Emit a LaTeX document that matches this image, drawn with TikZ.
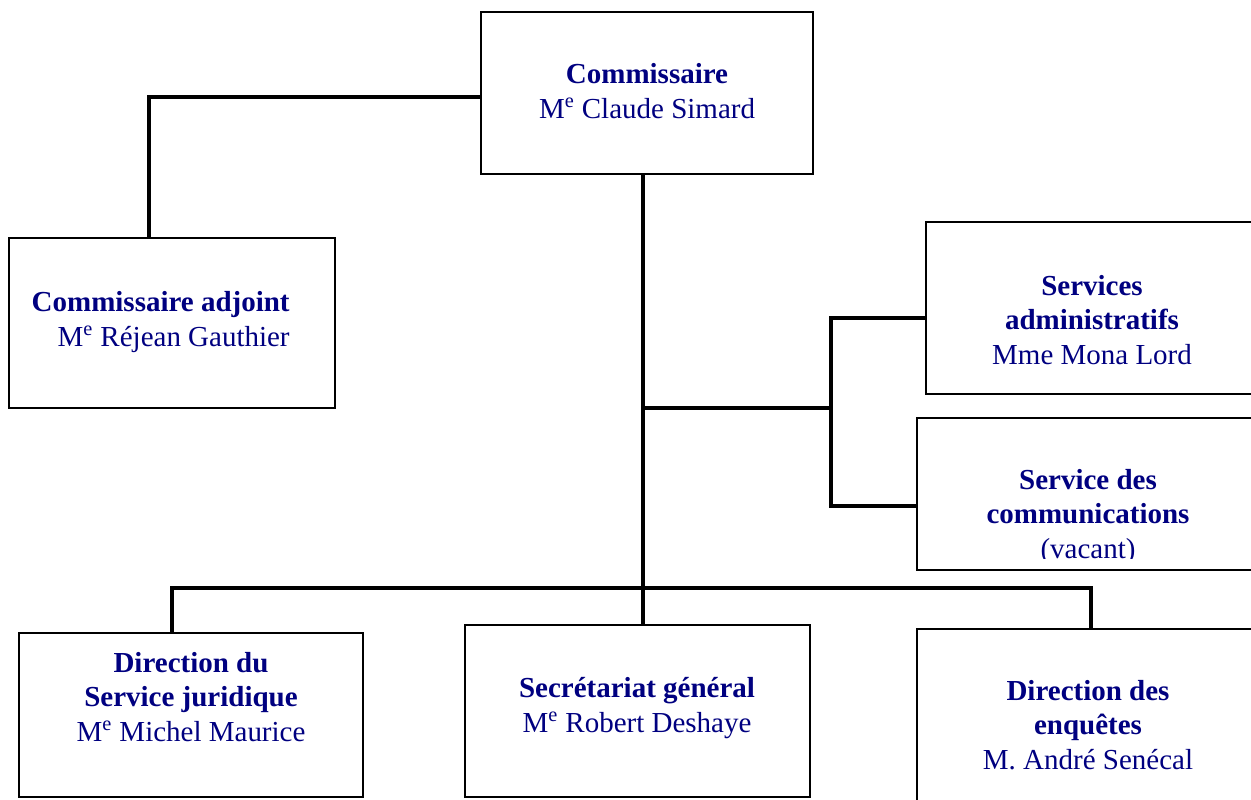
\documentclass[tikz,border=0pt]{standalone}
\usepackage{fontspec}
\setmainfont{Liberation Serif}
\definecolor{navy}{RGB}{0,0,128}
\newcommand{\Me}{M\textsuperscript{e}}

\begin{document}
\begin{tikzpicture}[x=0.02cm, y=-0.02cm]
        \tikzstyle{box}=[draw, line width=1.1pt, rectangle, inner sep=0pt]
        \tikzstyle{lbl}=[align=center, text=navy, inner sep=0pt, font=\fontsize{16.5}{19.8}\selectfont]
        \tikzstyle{link}=[line width=2.3pt]

        \useasboundingbox (0,0) rectangle (1251,799);

        % Commissaire
        \node[box, minimum width=6.64cm, minimum height=3.24cm] (comm) at (647,93) {};
        \node[lbl] (commT) at (647,91) {\textbf{Commissaire}\\\Me{} Claude Simard};

        % Commissaire adjoint
        \node[box, minimum width=6.52cm, minimum height=3.40cm] (adj) at (172,323) {};
        \node[lbl, align=right, anchor=east] (adjT) at (290,322) {\textbf{Commissaire adjoint}\\\Me{} Réjean Gauthier};

        % Services administratifs
        \node[box, minimum width=6.64cm, minimum height=3.44cm] (adm) at (1092,308) {};
        \node[lbl] (admT) at (1092,320) {\textbf{Services}\\\textbf{administratifs}\\Mme Mona Lord};

        % Service des communications
        \node[box, minimum width=6.84cm, minimum height=3.04cm] (comu) at (1088,494) {};
        \begin{scope}
            \clip (comu.north west) rectangle ([yshift=0.24cm]comu.south east);
            \node[lbl] (comuT) at (1088,517) {\textbf{Service des}\\\textbf{communications}\\(vacant)};
        \end{scope}

        % Direction du Service juridique
        \node[box, minimum width=6.88cm, minimum height=3.28cm] (jur) at (191,715) {};
        \node[lbl] (jurT) at (191,697) {\textbf{Direction du}\\\textbf{Service juridique}\\\Me{} Michel Maurice};

        % Secretariat general
        \node[box, minimum width=6.90cm, minimum height=3.44cm] (sec) at (637.5,711) {};
        \node[lbl] (secT) at (637,708) {\textbf{Secrétariat général}\\\Me{} Robert Deshaye};

        % Direction des enquetes
        \node[box, minimum width=6.84cm, minimum height=4.00cm] (enq) at (1088,729) {};
        \node[lbl] (enqT) at (1088,725) {\textbf{Direction des}\\\textbf{enquêtes}\\M. André Senécal};

        % Liens
        \coordinate (adjTurn) at (149,97);
        \draw[link] (comm.west |- adjTurn) -- (adjTurn) -- (adj.north -| adjTurn);

        \coordinate (hub) at (643,408);
        \draw[link] (comm.south -| hub) -- (sec.north -| hub);

        \coordinate (busL) at (172,588);
        \coordinate (busR) at (1091,588);
        \draw[link] (jur.north -| busL) -- (busL) -- (busR) -- (enq.north -| busR);

        \coordinate (fork) at (831,408);
        \coordinate (forkT) at (831,318);
        \coordinate (forkB) at (831,506);
        \draw[link] (hub) -- (fork);
        \draw[link] (adm.west |- forkT) -- (forkT) -- (forkB) -- (comu.west |- forkB);
    \end{tikzpicture}
\end{document}
